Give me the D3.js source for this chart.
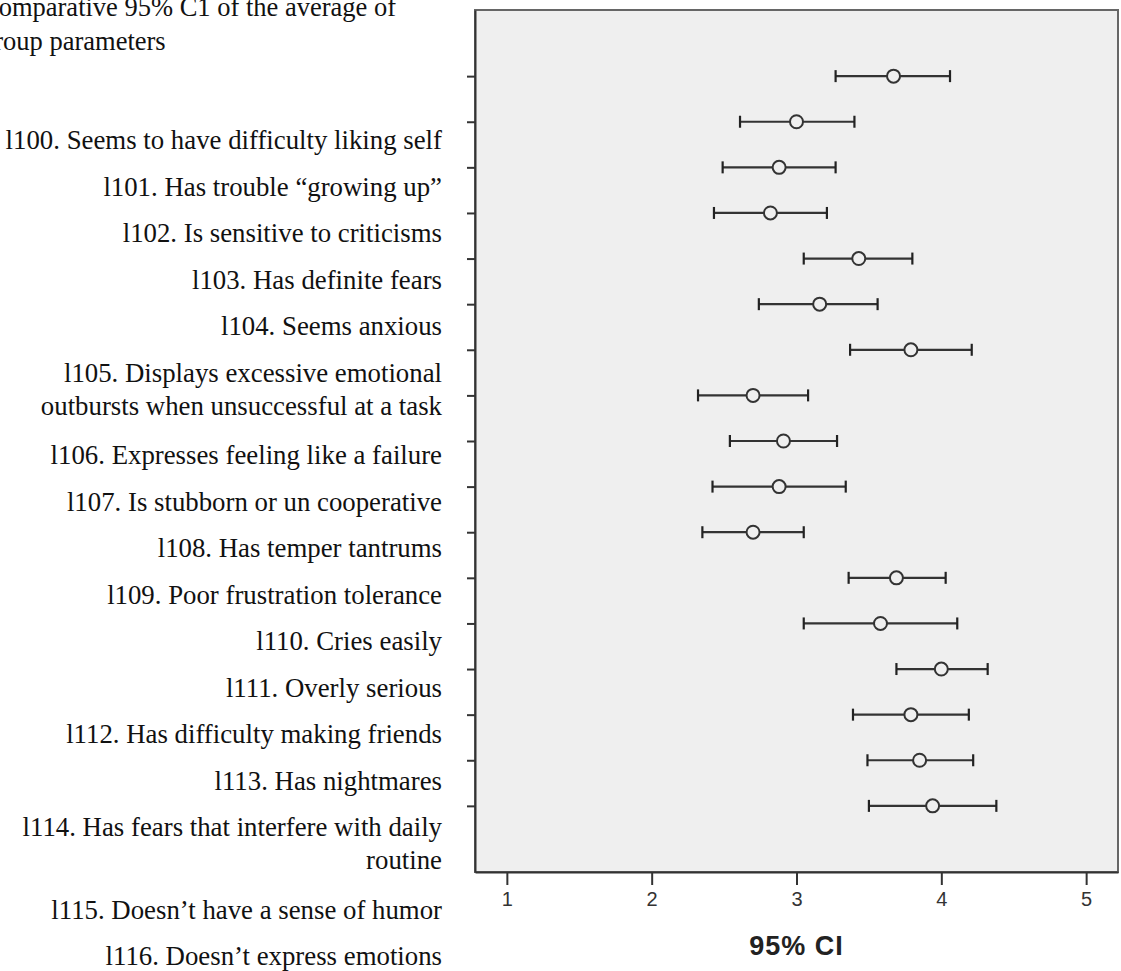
<!DOCTYPE html>
<html>
<head>
<meta charset="utf-8">
<script src="https://cdn.jsdelivr.net/npm/d3@7"></script>
<style>
  body { margin: 0; background: #ffffff; }
  svg { display: block; }
</style>
</head>
<body>
<svg id="chart" width="1121" height="971"></svg>
<script>
// item labels (one entry per item, each a list of text lines)
var items = [
    ["l100. Seems to have difficulty liking self"],
    ["l101. Has trouble \u201cgrowing up\u201d"],
    ["l102. Is sensitive to criticisms"],
    ["l103. Has definite fears"],
    ["l104. Seems anxious"],
    ["l105. Displays excessive emotional", "outbursts when unsuccessful at a task"],
    ["l106. Expresses feeling like a failure"],
    ["l107. Is stubborn or un cooperative"],
    ["l108. Has temper tantrums"],
    ["l109. Poor frustration tolerance"],
    ["l110. Cries easily"],
    ["l111. Overly serious"],
    ["l112. Has difficulty making friends"],
    ["l113. Has nightmares"],
    ["l114. Has fears that interfere with daily", "routine"],
    ["l115. Doesn\u2019t have a sense of humor"],
    ["l116. Doesn\u2019t express emotions"]
];

// 95% CI per item: mean, lower and upper bound
var means = [3.67, 3.00, 2.88, 2.82, 3.43, 3.16, 3.79, 2.70, 2.91, 2.88, 2.70, 3.69, 3.58, 4.00, 3.79, 3.85, 3.94];
var lower = [3.27, 2.61, 2.49, 2.43, 3.05, 2.74, 3.37, 2.32, 2.54, 2.42, 2.35, 3.36, 3.05, 3.69, 3.39, 3.49, 3.50];
var upper = [4.06, 3.40, 3.27, 3.21, 3.80, 3.56, 4.21, 3.08, 3.28, 3.34, 3.05, 4.03, 4.11, 4.32, 4.19, 4.22, 4.38];

var xTicks = [1, 2, 3, 4, 5];
var titleLines = ["Comparative 95% C1 of the average of", "group parameters"];
var xTitle = "95% CI";

var svg = d3.select("#chart");

// plot frame
var plotLeft = 475, plotRight = 1118, plotTop = 10, plotBottom = 872;

var xScale = d3.scaleLinear().domain([0.78, 5.22]).range([plotLeft, plotRight]);
var yScale = d3.scalePoint()
    .domain(d3.range(items.length))
    .range([plotTop, plotBottom])
    .padding(1.45);

// title, cut on the left like in the document
svg.append("g")
    .selectAll("text")
    .data(titleLines)
    .enter()
    .append("text")
    .attr("x", -19)
    .attr("y", function(d, i) { return 16 + i * 34; })
    .style("font-family", "'Liberation Serif', 'Times New Roman', serif")
    .style("font-size", "26.5px")
    .style("fill", "#111")
    .text(function(d) { return d; });

// item labels, right aligned next to the chart
var labelLines = [];
var yPos = 149;
items.forEach(function(lines) {
    lines.forEach(function(line, j) {
        labelLines.push({ text: line, y: yPos + j * 33 });
    });
    yPos += 46.5 + (lines.length - 1) * 36;
});

svg.append("g")
    .selectAll("text")
    .data(labelLines)
    .enter()
    .append("text")
    .attr("x", 442)
    .attr("y", function(d) { return d.y; })
    .attr("text-anchor", "end")
    .style("font-family", "'Liberation Serif', 'Times New Roman', serif")
    .style("font-size", "26.8px")
    .style("fill", "#111")
    .text(function(d) { return d.text; });

// plot background
svg.append("rect")
    .attr("x", plotLeft)
    .attr("y", plotTop)
    .attr("width", plotRight - plotLeft)
    .attr("height", plotBottom - plotTop)
    .attr("fill", "#efefef")
    .attr("stroke", "#666")
    .attr("stroke-width", 2);

// x axis
var xAxis = d3.axisBottom(xScale)
    .tickValues(xTicks)
    .tickFormat(d3.format("d"))
    .tickSize(13)
    .tickSizeOuter(0)
    .tickPadding(7);

var gx = svg.append("g")
    .attr("transform", "translate(0," + plotBottom + ")")
    .call(xAxis);
gx.select(".domain").attr("stroke", "#333").attr("stroke-width", 2);
gx.selectAll(".tick line").attr("stroke", "#333").attr("stroke-width", 2);
gx.selectAll(".tick text")
    .style("font-family", "'Liberation Sans', Arial, sans-serif")
    .style("font-size", "20px")
    .attr("fill", "#333");

// y axis (ticks only, no labels)
var yAxis = d3.axisLeft(yScale).tickSize(8).tickSizeOuter(0).tickFormat("");
var gy = svg.append("g")
    .attr("transform", "translate(" + plotLeft + ",0)")
    .call(yAxis);
gy.select(".domain").attr("stroke", "#333").attr("stroke-width", 2);
gy.selectAll(".tick line").attr("stroke", "#333").attr("stroke-width", 2);

// x axis title
svg.append("text")
    .attr("x", xScale(3))
    .attr("y", 955)
    .attr("text-anchor", "middle")
    .style("font-family", "'Liberation Sans', Arial, sans-serif")
    .style("font-size", "27px")
    .style("font-weight", "bold")
    .style("letter-spacing", "1px")
    .style("fill", "#222")
    .text(xTitle);

// error bars
var bars = svg.append("g")
    .selectAll("g")
    .data(means)
    .enter()
    .append("g")
    .attr("transform", function(d, i) { return "translate(0," + yScale(i) + ")"; });

bars.append("line")
    .attr("x1", function(d, i) { return xScale(lower[i]); })
    .attr("x2", function(d, i) { return xScale(upper[i]); })
    .attr("y1", 0)
    .attr("y2", 0)
    .attr("stroke", "#333")
    .attr("stroke-width", 2.2);

bars.append("line")
    .attr("x1", function(d, i) { return xScale(lower[i]); })
    .attr("x2", function(d, i) { return xScale(lower[i]); })
    .attr("y1", -6)
    .attr("y2", 6)
    .attr("stroke", "#222")
    .attr("stroke-width", 2.2);

bars.append("line")
    .attr("x1", function(d, i) { return xScale(upper[i]); })
    .attr("x2", function(d, i) { return xScale(upper[i]); })
    .attr("y1", -6)
    .attr("y2", 6)
    .attr("stroke", "#222")
    .attr("stroke-width", 2.2);

bars.append("circle")
    .attr("cx", function(d) { return xScale(d); })
    .attr("cy", 0)
    .attr("r", 6.5)
    .attr("fill", "#efefef")
    .attr("stroke", "#333")
    .attr("stroke-width", 2);
</script>
</body>
</html>
